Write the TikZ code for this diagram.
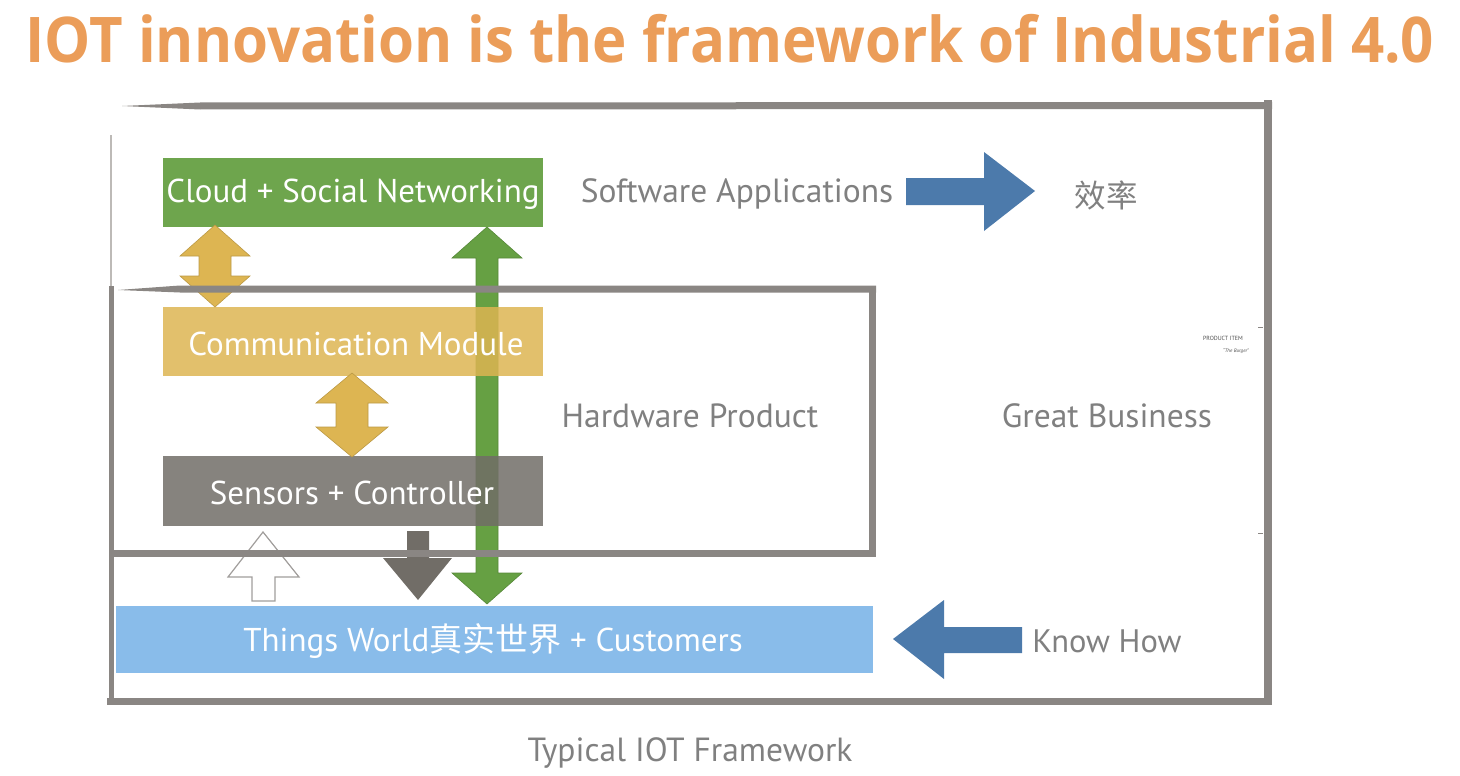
\documentclass[tikz,border=0pt]{standalone}
\usepackage{fontspec}
\setmainfont{PT Sans}
\newfontfamily\titlefont{Open Sans}
\newfontfamily\cjk{Noto Sans CJK SC}
\definecolor{titleor}{HTML}{EB9D59}
\definecolor{frameg}{HTML}{8A8683}
\definecolor{framel}{HTML}{BDBAB7}
\definecolor{txtg}{HTML}{808080}
\definecolor{cloudg}{HTML}{66A043}
\definecolor{commy}{HTML}{DDB552}
\definecolor{sensg}{HTML}{716D67}
\definecolor{thingsb}{HTML}{89BCEA}
\definecolor{arrowb}{HTML}{4C7AAB}
\newcommand\DArrowV[7]{% style, x, ytop, ybot, half head, head len, half shaft
  \path[#1] (#2,#3) -- (#2+#5,#3+#6) -- (#2+#7,#3+#6) -- (#2+#7,#4-#6) -- (#2+#5,#4-#6)
    -- (#2,#4) -- (#2-#5,#4-#6) -- (#2-#7,#4-#6) -- (#2-#7,#3+#6) -- (#2-#5,#3+#6) -- cycle;}
\tikzset{
  boxtext/.style={text=white, inner sep=0pt, font=\fontsize{33}{33}\selectfont},
  label/.style={text=txtg, inner sep=0pt, font=\fontsize{33.5}{33.5}\selectfont},
  frame/.style={draw=frameg, line cap=rect},
  goldarrow/.style={fill=commy, draw=commy!85!black, line width=0.6pt},
}
\begin{document}
\begin{tikzpicture}[x=1pt,y=-1pt]
\useasboundingbox (0,0) rectangle (1460,776);
% title
\node[text=titleor, inner sep=0pt, font=\titlefont\bfseries\fontsize{63}{63}\selectfont] (title) at (730,39) {\scalebox{0.923}[1]{IOT innovation is the framework of Industrial 4.0}};
% green long arrow (under boxes)
\DArrowV{fill=cloudg, draw=cloudg!85!black, line width=0.6pt}{487}{227}{604}{35}{31}{11}
% boxes
\path[fill=cloudg, fill opacity=0.95] (163,158) rectangle (543,227);
\node[boxtext] (cloud) at (353,194) {Cloud + Social Networking};
\path[fill=commy, fill opacity=0.85] (163,307) rectangle (543,376);
\node[boxtext] (comm) at (356,344) {Communication Module};
\path[fill=sensg, fill opacity=0.85] (163,456) rectangle (543,526);
\node[boxtext] (sens) at (352,493) {Sensors + Controller};
\path[fill=thingsb] (116,606) rectangle (873,673);
\node[boxtext] (things) at (493,641) {Things World{\cjk 真实世界} + Customers};
% gold double arrows
\DArrowV{goldarrow}{215}{225}{307}{35}{31}{16}
\DArrowV{goldarrow}{352}{373}{457}{36}{30}{16}
% gray down arrow
\path[fill=sensg] (407,531) -- (429,531) -- (429,558) -- (452,558) -- (418,600) -- (383,558) -- (407,558) -- cycle;
% white up arrow
\path[fill=white, draw=frameg!80, line width=1.2pt] (263,532) -- (299,577) -- (275,577) -- (275,601) -- (252,601) -- (252,577) -- (228,577) -- cycle;
% blue arrows
\path[fill=arrowb] (906,178) -- (984,178) -- (984,152) -- (1035,191) -- (984,231) -- (984,205) -- (906,205) -- cycle;
\path[fill=arrowb] (893,639) -- (944,600) -- (944,627) -- (1022,627) -- (1022,653) -- (944,653) -- (944,679) -- cycle;
% frames
\path[fill=frameg] (122,106) -- (200,102.5) -- (1272,102) -- (1272,109) -- (200,109.5) -- cycle;
\draw[frame, line width=8pt] (1268,104) -- (1268,701);
\draw[frame, line width=7pt] (110,701) -- (1268,701);
\draw[framel, line width=2pt] (111,135) -- (111,290);
\draw[frame, line width=5pt] (111,288) -- (111,701);
\path[fill=frameg] (118,290) -- (180,285.5) -- (876,285.5) -- (876,292.5) -- (180,292.5) -- cycle;
\draw[frame, line width=7pt] (872,289) -- (872,553);
\draw[frame, line width=7pt] (113,553) -- (872,553);
\draw[frameg, line width=1pt] (1258,327) -- (1263,327);
\draw[frameg, line width=1pt] (1258,533) -- (1263,533);
% labels
\node[label] (sw) at (737,194) {Software Applications};
\node[label, font=\cjk\fontsize{31.5}{31.5}\selectfont] (eff) at (1106,195) {效率};
\node[label] (hw) at (690,416) {Hardware Product};
\node[label] (gb) at (1107,416) {Great Business};
\node[label, font=\fontsize{32.5}{32.5}\selectfont] (kh) at (1107,641) {Know How};
\node[label] (typ) at (690,753) {Typical IOT Framework};
\node[inner sep=0pt, text=black!70, font=\fontsize{6}{6}\selectfont] (pi) at (1223,338) {PRODUCT ITEM};
\node[inner sep=0pt, text=black!70, font=\itshape\fontsize{5}{5}\selectfont] (bg) at (1236,351) {``The Burger''};
\end{tikzpicture}
\end{document}
